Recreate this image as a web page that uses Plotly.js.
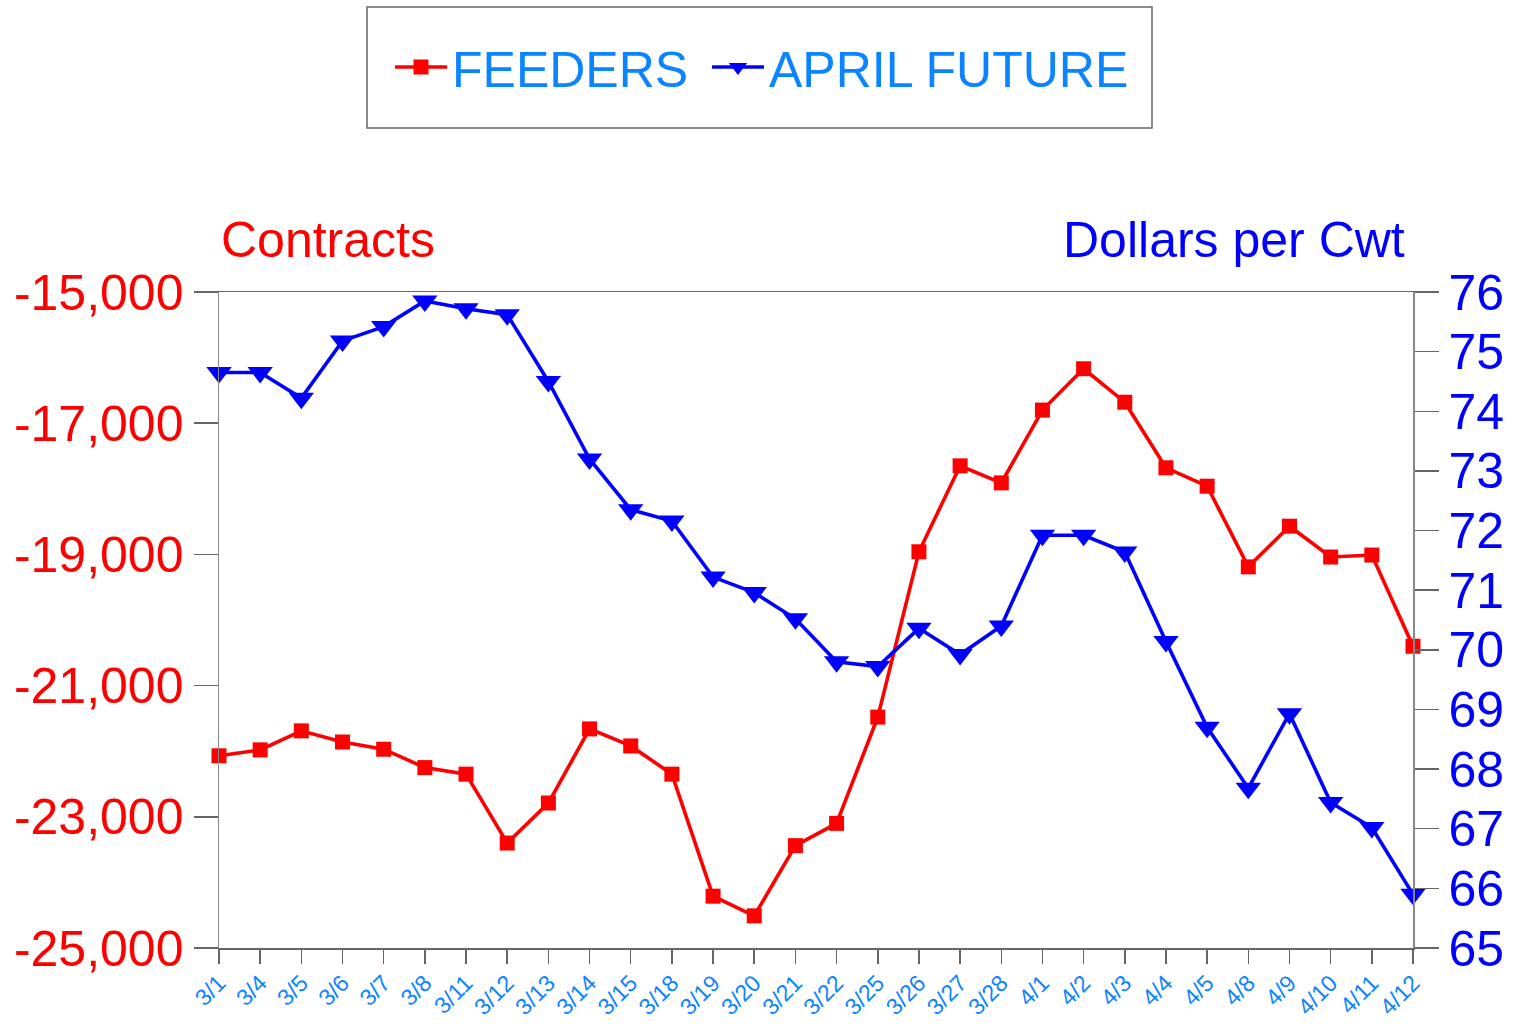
<!DOCTYPE html>
<html>
<head>
<meta charset="utf-8">
<script src="https://cdn.plot.ly/plotly-3.0.1.min.js"></script>
<style>html,body{margin:0;padding:0;background:#fff;}#chart{width:1515px;height:1028px;}</style>
</head>
<body>
<div id="chart"></div>
<script>
const dates = ["3/1","3/4","3/5","3/6","3/7","3/8","3/11","3/12","3/13","3/14","3/15","3/18","3/19","3/20","3/21","3/22","3/25","3/26","3/27","3/28","4/1","4/2","4/3","4/4","4/5","4/8","4/9","4/10","4/11","4/12"];
const feeders = [-22070,-21980,-21690,-21860,-21970,-22250,-22350,-23400,-22790,-21660,-21920,-22350,-24210,-24510,-23440,-23100,-21480,-18960,-17650,-17910,-16800,-16170,-16680,-17680,-17960,-19190,-18570,-19040,-19010,-20400];
const aprilFuture = [74.65,74.65,74.22,75.18,75.42,75.85,75.72,75.62,74.5,73.2,72.35,72.16,71.22,70.96,70.52,69.8,69.72,70.36,69.92,70.4,71.92,71.92,71.64,70.14,68.7,67.68,68.93,67.44,67.02,65.9];
const leftTicks = [-25000,-23000,-21000,-19000,-17000,-15000];
const leftTickText = ["-25,000","-23,000","-21,000","-19,000","-17,000","-15,000"];
const rightTicks = [65,66,67,68,69,70,71,72,73,74,75,76];

const tickBlue = "#0a84ff";
const traces = [
  {x: dates, y: feeders, name: "FEEDERS", type: "scatter", mode: "lines+markers", cliponaxis: false, legend: "legend",
   line: {color: "#ff0000", width: 3.6}, marker: {symbol: "square", size: 15, color: "#ff0000"}, yaxis: "y"},
  {x: dates, y: aprilFuture, name: "APRIL FUTURE", type: "scatter", mode: "lines+markers", cliponaxis: false, legend: "legend2",
   line: {color: "#0000ff", width: 3.6}, marker: {symbol: "triangle-down", size: 22, color: "#0000ff"}, yaxis: "y2"}
];
const legendBase = {orientation: "h", yanchor: "middle", xanchor: "left",
  font: {size: 50, color: tickBlue}, bgcolor: "rgba(0,0,0,0)", borderwidth: 0, itemwidth: 52};
const layout = {
  width: 1515, height: 1028,
  margin: {l: 219, r: 102, t: 292, b: 80},
  paper_bgcolor: "#fff", plot_bgcolor: "#fff",
  font: {family: "Liberation Sans, Arial, sans-serif"},
  showlegend: true,
  legend: Object.assign({}, legendBase, {x: (390-219)/1194, y: (948-67)/656}),
  legend2: Object.assign({}, legendBase, {x: (707-219)/1194, y: (948-67)/656}),
  xaxis: {type: "category", range: [0, dates.length - 1], showgrid: false, zeroline: false,
    showline: true, linecolor: "#666", linewidth: 1.5, mirror: true,
    ticks: "outside", ticklen: 14, tickcolor: "#666", tickwidth: 1.5, tickangle: -45,
    tickfont: {size: 23, color: tickBlue}, ticklabelstandoff: -3},
  yaxis: {range: [-25000, -15000], tickvals: leftTicks, ticktext: leftTickText, showgrid: false, zeroline: false,
    showline: true, linecolor: "#888", linewidth: 1.5, ticks: "outside", ticklen: 24, tickcolor: "#666", tickwidth: 1.5,
    tickfont: {size: 50, color: "#ff0000"}, ticklabelstandoff: 0},
  yaxis2: {range: [65, 76], tickvals: rightTicks, overlaying: "y", side: "right", showgrid: false, zeroline: false,
    showline: true, linecolor: "#888", linewidth: 1.5, ticks: "outside", ticklen: 24, tickcolor: "#666", tickwidth: 1.5,
    tickfont: {size: 50, color: "#0000ff"}, ticklabelstandoff: 0},
  shapes: [{type: "rect", xref: "paper", yref: "paper", x0: (367-219)/1194, x1: (1152-219)/1194,
    y0: (948-128)/656, y1: (948-7)/656, line: {color: "#666", width: 1.5}}],
  annotations: [
    {text: "Contracts", xref: "paper", yref: "paper", x: 0, y: (948-240)/656, xanchor: "left", yanchor: "middle",
     showarrow: false, font: {size: 50, color: "#ff0000"}},
    {text: "Dollars per Cwt", xref: "paper", yref: "paper", x: (1407-219)/1194, y: (948-240)/656, xanchor: "right", yanchor: "middle",
     showarrow: false, font: {size: 50, color: "#0000ff"}}
  ]
};
Plotly.newPlot("chart", traces, layout, {displayModeBar: false, staticPlot: true});
</script>
</body>
</html>
